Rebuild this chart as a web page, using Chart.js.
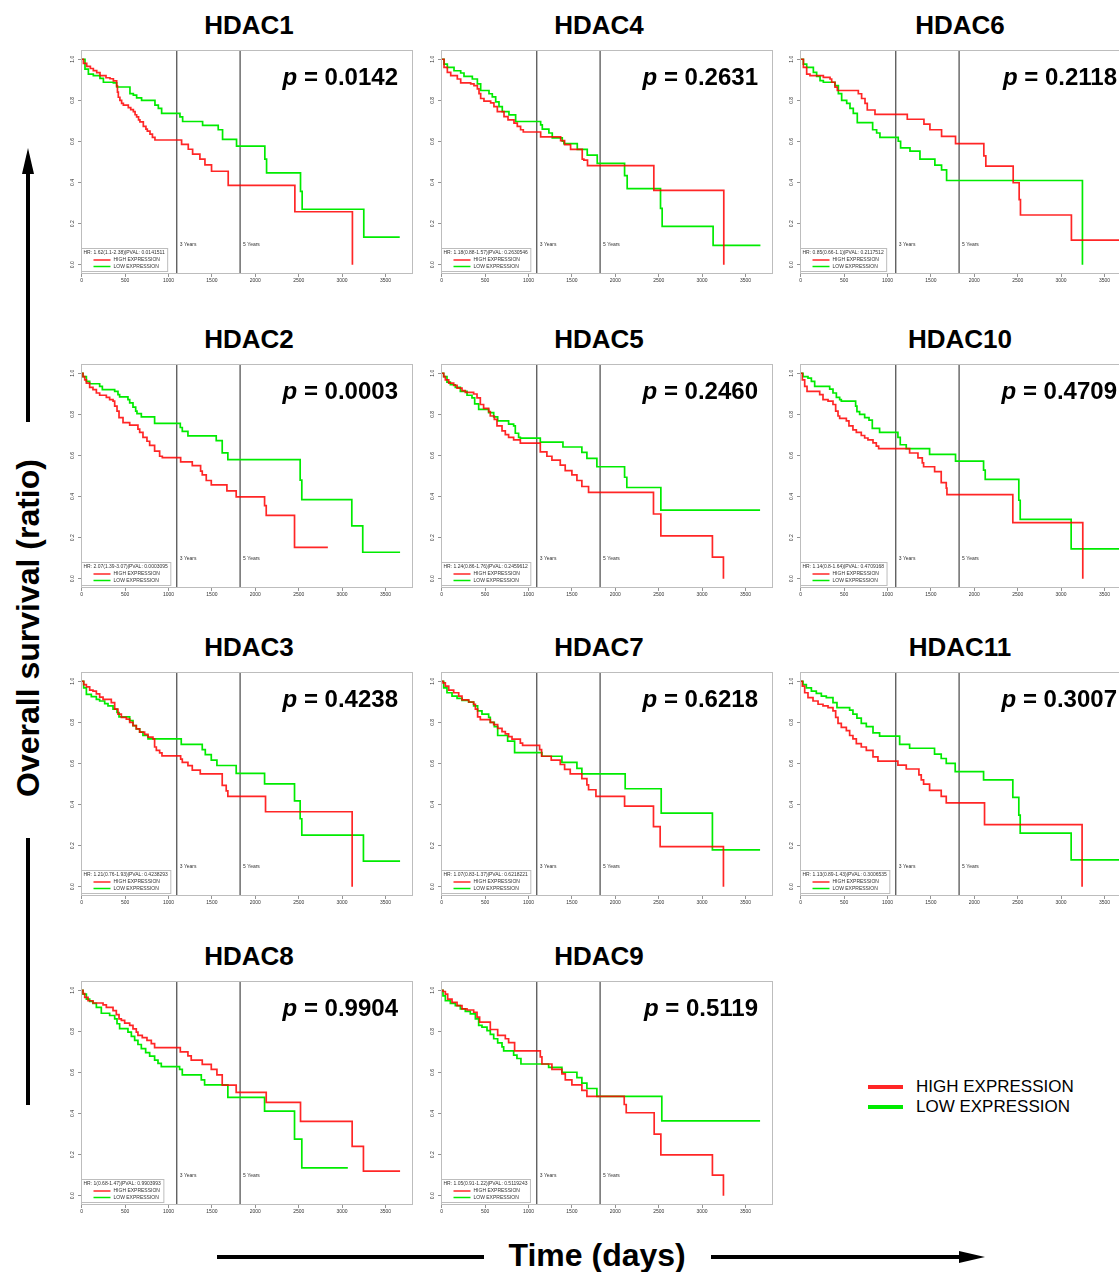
<!DOCTYPE html>
<html>
<head>
<meta charset="utf-8">
<script src="https://cdn.jsdelivr.net/npm/chart.js@4.4.1/dist/chart.umd.min.js"></script>
<style>
  html, body { margin: 0; padding: 0; background: #fff; overflow: hidden; }
  body { width: 1119px; height: 1272px; position: relative; font-family: "Liberation Sans", Arial, sans-serif; }
  canvas { position: absolute; }
  .title { position: absolute; width: 200px; text-align: center; font-weight: bold; font-size: 26px; line-height: 30px; color: #000; }
  .bar { position: absolute; background: #000; }
  .axis-label { position: absolute; font-weight: bold; font-size: 32px; line-height: 36px; white-space: nowrap; color: #000; }
  .key { position: absolute; font-size: 17px; line-height: 20px; color: #000; white-space: nowrap; }
</style>
</head>
<body>
<script>
// ---- data (day, survival) ----
const hdac1High = [[0,1],[20,0.98],[58,0.965],[100,0.955],[134,0.945],[173,0.935],[211,0.92],[280,0.91],[326,0.905],[365,0.895],[403,0.87],[412,0.84],[422,0.815],[440,0.8],[460,0.785],[480,0.777],[537,0.765],[565,0.755],[595,0.745],[615,0.73],[633,0.72],[655,0.705],[671,0.695],[710,0.673],[740,0.66],[756,0.65],[787,0.636],[815,0.62],[844,0.607],[1151,0.586],[1228,0.562],[1278,0.538],[1362,0.514],[1420,0.486],[1496,0.455],[1688,0.386],[2456,0.258],[3119,0]];
const hdac1Low = [[0,1],[38,0.952],[77,0.928],[134,0.92],[211,0.907],[250,0.888],[365,0.885],[403,0.865],[556,0.833],[595,0.825],[633,0.812],[690,0.8],[844,0.777],[883,0.761],[921,0.737],[1132,0.72],[1163,0.697],[1393,0.678],[1573,0.657],[1623,0.61],[1784,0.577],[2110,0.514],[2130,0.447],[2521,0.357],[2540,0.27],[3250,0.134],[3664,0.134]];

const hdac4High = [[0,1],[27,0.96],[65,0.936],[104,0.92],[180,0.904],[219,0.885],[334,0.88],[372,0.872],[411,0.856],[430,0.833],[449,0.809],[487,0.796],[564,0.788],[602,0.769],[641,0.745],[718,0.721],[764,0.705],[833,0.689],[871,0.673],[909,0.657],[940,0.646],[1140,0.622],[1370,0.604],[1416,0.585],[1485,0.561],[1619,0.514],[1638,0.509],[1680,0.482],[2444,0.362],[3250,0]];
const hdac4Low = [[0,1],[27,0.976],[65,0.96],[142,0.944],[219,0.933],[257,0.917],[353,0.904],[411,0.88],[449,0.848],[545,0.832],[583,0.817],[622,0.793],[660,0.769],[698,0.745],[775,0.729],[852,0.697],[1140,0.681],[1159,0.66],[1235,0.641],[1274,0.617],[1389,0.601],[1408,0.589],[1562,0.561],[1677,0.533],[1792,0.493],[2107,0.434],[2137,0.37],[2521,0.274],[2540,0.187],[3127,0.094],[3672,0.094]];

const hdac6High = [[0,1],[31,0.96],[69,0.928],[107,0.92],[261,0.912],[338,0.904],[357,0.888],[395,0.864],[422,0.848],[664,0.832],[702,0.809],[741,0.785],[767,0.753],[856,0.732],[1228,0.708],[1420,0.684],[1489,0.657],[1623,0.625],[1784,0.589],[2110,0.53],[2133,0.48],[2448,0.399],[2517,0.317],[2532,0.242],[3119,0.12],[3672,0.12]];
const hdac6Low = [[0,1],[31,0.976],[69,0.96],[146,0.936],[184,0.917],[223,0.896],[261,0.888],[395,0.872],[434,0.833],[472,0.8],[530,0.785],[568,0.761],[606,0.737],[652,0.692],[829,0.657],[875,0.641],[913,0.62],[1124,0.601],[1151,0.569],[1259,0.553],[1374,0.514],[1546,0.485],[1623,0.462],[1681,0.41],[3246,0]];

const hdac2High = [[0,1],[15,0.984],[35,0.968],[54,0.952],[92,0.931],[130,0.92],[169,0.904],[207,0.893],[284,0.883],[322,0.872],[361,0.864],[380,0.84],[407,0.816],[430,0.784],[476,0.76],[553,0.748],[648,0.728],[668,0.712],[706,0.688],[752,0.669],[783,0.649],[840,0.621],[898,0.596],[929,0.589],[1140,0.569],[1274,0.55],[1370,0.524],[1389,0.505],[1435,0.478],[1493,0.457],[1673,0.428],[1780,0.398],[2107,0.356],[2126,0.308],[2452,0.153],[2836,0.153]];
const hdac2Low = [[0,1],[15,0.984],[54,0.96],[92,0.949],[207,0.936],[238,0.92],[380,0.912],[418,0.896],[437,0.885],[533,0.872],[553,0.856],[591,0.835],[622,0.816],[637,0.804],[687,0.788],[840,0.756],[1136,0.736],[1159,0.717],[1224,0.695],[1550,0.672],[1619,0.613],[1684,0.58],[2517,0.48],[2536,0.385],[3112,0.257],[3238,0.129],[3668,0.129]];

const hdac5High = [[0,1],[23,0.984],[42,0.968],[81,0.952],[138,0.941],[177,0.928],[234,0.915],[272,0.907],[368,0.899],[407,0.88],[445,0.848],[483,0.829],[541,0.813],[560,0.792],[606,0.776],[637,0.744],[695,0.72],[733,0.701],[771,0.688],[829,0.676],[906,0.66],[1136,0.617],[1212,0.596],[1270,0.577],[1366,0.553],[1423,0.526],[1500,0.505],[1558,0.478],[1615,0.449],[1692,0.42],[2440,0.315],[2525,0.209],[3119,0.105],[3246,0]];
const hdac5Low = [[0,1],[23,0.984],[61,0.957],[100,0.944],[157,0.931],[215,0.912],[292,0.893],[349,0.88],[380,0.851],[426,0.824],[541,0.808],[599,0.788],[645,0.768],[771,0.752],[829,0.744],[848,0.708],[886,0.688],[906,0.684],[1136,0.665],[1397,0.641],[1615,0.615],[1673,0.586],[1788,0.545],[2107,0.494],[2133,0.444],[2525,0.334],[3668,0.334]];

const hdac10High = [[0,1],[19,0.968],[46,0.936],[73,0.912],[219,0.896],[257,0.872],[315,0.864],[372,0.848],[403,0.816],[430,0.792],[449,0.78],[526,0.768],[556,0.744],[602,0.724],[641,0.712],[698,0.697],[737,0.685],[775,0.676],[833,0.661],[871,0.645],[898,0.633],[1255,0.612],[1351,0.588],[1401,0.564],[1416,0.545],[1543,0.521],[1619,0.468],[1677,0.441],[1685,0.409],[2444,0.273],[3250,0]];
const hdac10Low = [[0,1],[27,0.984],[84,0.976],[123,0.96],[161,0.936],[334,0.923],[372,0.904],[411,0.883],[449,0.872],[468,0.864],[633,0.84],[648,0.813],[679,0.8],[737,0.784],[787,0.772],[825,0.732],[909,0.712],[1120,0.688],[1147,0.652],[1216,0.633],[1485,0.605],[1784,0.572],[2107,0.529],[2126,0.484],[2513,0.382],[2529,0.289],[3116,0.145],[3668,0.145]];

const hdac3High = [[0,1],[23,0.984],[54,0.973],[92,0.957],[130,0.952],[169,0.939],[207,0.923],[246,0.912],[341,0.896],[380,0.864],[418,0.84],[457,0.824],[514,0.816],[553,0.8],[591,0.784],[629,0.768],[668,0.752],[725,0.741],[764,0.728],[821,0.72],[840,0.68],[860,0.664],[898,0.651],[925,0.637],[1140,0.621],[1159,0.605],[1224,0.589],[1274,0.568],[1366,0.549],[1619,0.493],[1665,0.467],[1684,0.44],[2118,0.365],[3116,0]];
const hdac3Low = [[0,1],[23,0.968],[54,0.936],[111,0.925],[169,0.912],[207,0.904],[265,0.891],[303,0.88],[361,0.864],[407,0.848],[430,0.827],[553,0.808],[591,0.784],[629,0.768],[668,0.752],[706,0.736],[764,0.72],[1147,0.693],[1389,0.667],[1424,0.643],[1493,0.616],[1558,0.59],[1780,0.552],[2107,0.501],[2452,0.418],[2517,0.331],[2536,0.251],[3246,0.125],[3668,0.125]];

const hdac7High = [[0,1],[15,0.992],[42,0.976],[81,0.957],[138,0.944],[196,0.928],[234,0.909],[311,0.899],[368,0.888],[388,0.864],[414,0.827],[445,0.813],[560,0.8],[599,0.789],[645,0.771],[695,0.755],[733,0.744],[771,0.731],[810,0.718],[906,0.699],[932,0.688],[1128,0.667],[1151,0.635],[1262,0.616],[1366,0.595],[1416,0.571],[1481,0.549],[1615,0.526],[1673,0.496],[1692,0.472],[1777,0.44],[2107,0.392],[2440,0.293],[2517,0.195],[3246,0]];
const hdac7Low = [[0,1],[23,0.968],[61,0.944],[119,0.928],[177,0.917],[234,0.907],[311,0.898],[368,0.88],[414,0.856],[464,0.84],[541,0.824],[560,0.8],[606,0.779],[645,0.736],[760,0.709],[840,0.653],[1155,0.635],[1385,0.605],[1558,0.576],[1615,0.549],[2114,0.477],[2529,0.358],[3119,0.179],[3668,0.179]];

const hdac11High = [[0,1],[19,0.976],[46,0.944],[84,0.92],[142,0.904],[200,0.888],[257,0.88],[315,0.872],[372,0.856],[403,0.824],[430,0.795],[468,0.776],[526,0.76],[564,0.736],[602,0.72],[641,0.696],[698,0.68],[756,0.664],[833,0.632],[890,0.611],[1120,0.592],[1216,0.573],[1362,0.544],[1389,0.52],[1416,0.499],[1485,0.469],[1619,0.44],[1677,0.408],[2118,0.302],[3242,0]];
const hdac11Low = [[0,1],[27,0.984],[65,0.968],[123,0.952],[180,0.941],[238,0.928],[295,0.92],[372,0.896],[418,0.872],[564,0.859],[602,0.84],[648,0.821],[698,0.795],[756,0.779],[833,0.749],[909,0.733],[1140,0.693],[1255,0.674],[1542,0.645],[1619,0.624],[1677,0.6],[1780,0.56],[2107,0.52],[2444,0.435],[2513,0.349],[2529,0.261],[3116,0.131],[3668,0.131]];

const hdac8High = [[0,1],[15,0.984],[35,0.965],[73,0.949],[130,0.938],[246,0.929],[284,0.917],[361,0.901],[399,0.881],[430,0.861],[457,0.853],[495,0.84],[553,0.829],[591,0.812],[629,0.796],[648,0.78],[698,0.769],[752,0.756],[802,0.74],[840,0.721],[1136,0.7],[1224,0.681],[1262,0.66],[1389,0.639],[1493,0.615],[1558,0.588],[1619,0.538],[1780,0.503],[2126,0.454],[2521,0.362],[3116,0.24],[3246,0.12],[3668,0.12]];
const hdac8Low = [[0,1],[15,0.981],[54,0.957],[92,0.946],[130,0.936],[169,0.917],[226,0.888],[322,0.877],[380,0.861],[407,0.837],[437,0.813],[533,0.796],[572,0.776],[610,0.756],[648,0.736],[687,0.716],[737,0.696],[783,0.679],[840,0.66],[879,0.644],[917,0.628],[1128,0.615],[1159,0.588],[1378,0.564],[1416,0.54],[1684,0.479],[2107,0.412],[2452,0.276],[2536,0.136],[3066,0.136]];

const hdac9High = [[0,1],[15,0.994],[42,0.981],[69,0.957],[119,0.941],[177,0.925],[234,0.909],[292,0.904],[368,0.893],[407,0.869],[437,0.845],[560,0.809],[645,0.78],[733,0.764],[771,0.745],[840,0.705],[1136,0.676],[1155,0.641],[1270,0.615],[1385,0.593],[1424,0.564],[1500,0.54],[1615,0.513],[1673,0.484],[2103,0.444],[2126,0.404],[2448,0.3],[2525,0.199],[3119,0.1],[3246,0]];
const hdac9Low = [[0,1],[15,0.973],[42,0.949],[100,0.936],[157,0.925],[215,0.909],[272,0.897],[330,0.885],[388,0.861],[426,0.829],[464,0.821],[522,0.804],[560,0.785],[599,0.764],[645,0.744],[695,0.724],[714,0.705],[829,0.684],[867,0.668],[913,0.641],[1232,0.625],[1385,0.601],[1558,0.575],[1615,0.548],[1673,0.522],[1788,0.484],[2536,0.364],[3668,0.364]];

// panel order as laid out, row by row
const panelNames = ['HDAC1', 'HDAC4', 'HDAC6', 'HDAC2', 'HDAC5', 'HDAC10', 'HDAC3', 'HDAC7', 'HDAC11', 'HDAC8', 'HDAC9'];
const highSeries = [hdac1High, hdac4High, hdac6High, hdac2High, hdac5High, hdac10High, hdac3High, hdac7High, hdac11High, hdac8High, hdac9High];
const lowSeries = [hdac1Low, hdac4Low, hdac6Low, hdac2Low, hdac5Low, hdac10Low, hdac3Low, hdac7Low, hdac11Low, hdac8Low, hdac9Low];
const pValues = ['0.0142', '0.2631', '0.2118', '0.0003', '0.2460', '0.4709', '0.4238', '0.6218', '0.3007', '0.9904', '0.5119'];
const hrLabels = [
    'HR: 1.62(1.1-2.38)|PVAL: 0.0141511',
    'HR: 1.18(0.88-1.57)|PVAL: 0.2630546',
    'HR: 0.85(0.66-1.1)|PVAL: 0.2117512',
    'HR: 2.07(1.39-3.07)|PVAL: 0.0003095',
    'HR: 1.24(0.86-1.76)|PVAL: 0.2459612',
    'HR: 1.14(0.8-1.64)|PVAL: 0.4709168',
    'HR: 1.21(0.76-1.93)|PVAL: 0.4238293',
    'HR: 1.07(0.83-1.37)|PVAL: 0.6218221',
    'HR: 1.13(0.89-1.43)|PVAL: 0.3006535',
    'HR: 1(0.68-1.47)|PVAL: 0.9903993',
    'HR: 1.05(0.91-1.22)|PVAL: 0.5119243'
];
const xTicks = [0, 500, 1000, 1500, 2000, 2500, 3000, 3500];
const yTicks = [0, 0.2, 0.4, 0.6, 0.8, 1.0];
const yearMarks = [1095, 1825];
const yearLabels = ['3 Years', '5 Years'];
const seriesLabels = ['HIGH EXPRESSION', 'LOW EXPRESSION'];

// ---- layout ----
const RED = 'rgba(255,0,0,0.85)';
const GREEN = 'rgb(0,235,0)';
const FONT = '"Liberation Sans", Arial, sans-serif';
const colLeft = [81, 441, 800];
const rowTop = [47, 361, 669, 978];
const titleCx = [249, 599, 960];
const BOX_W = 332, BOX_H = 227;
const X_MIN = -8, X_MAX = 3817, Y_MIN = -0.045, Y_MAX = 1.045;

Chart.defaults.font.family = FONT;

// frame, year labels, inset legend and p value
const kmDecor = {
    id: 'kmDecor',
    afterDraw(chart, args, opts) {
        const {ctx, chartArea: a, scales: {x, y}} = chart;
        ctx.save();
        ctx.strokeStyle = '#bdbdbd';
        ctx.lineWidth = 1;
        ctx.strokeRect(a.left + 0.5, a.top + 0.5, a.right - a.left - 1, a.bottom - a.top - 1);

        ctx.fillStyle = '#333';
        ctx.font = '5px ' + FONT;
        ctx.textBaseline = 'middle';
        ctx.textAlign = 'left';
        yearMarks.forEach((d, i) => ctx.fillText(yearLabels[i], x.getPixelForValue(d) + 3, y.getPixelForValue(0.1)));

        // inset legend
        const w = ctx.measureText(opts.hr).width + 5;
        const lx = a.left + 0.5, ly = a.bottom - 25.5;
        ctx.fillStyle = '#fff';
        ctx.fillRect(lx, ly, w, 23);
        ctx.strokeStyle = '#bdbdbd';
        ctx.strokeRect(lx, ly, w, 23);
        ctx.fillStyle = '#333';
        ctx.fillText(opts.hr, lx + 2, ly + 4.5);
        [RED, GREEN].forEach((c, i) => {
            const yy = ly + 11.5 + i * 6.5;
            ctx.strokeStyle = c;
            ctx.lineWidth = 1.5;
            ctx.beginPath();
            ctx.moveTo(lx + 12, yy);
            ctx.lineTo(lx + 29, yy);
            ctx.stroke();
            ctx.fillText(seriesLabels[i], lx + 32, yy);
        });

        // p value, right aligned
        ctx.fillStyle = '#000';
        ctx.textBaseline = 'alphabetic';
        ctx.font = 'bold 24px ' + FONT;
        const rest = ' = ' + opts.p;
        const rw = ctx.measureText(rest).width;
        const px = a.right - 15 - rw;
        ctx.fillText(rest, px, a.top + 35);
        ctx.font = 'italic bold 24px ' + FONT;
        ctx.textAlign = 'right';
        ctx.fillText('p', px, a.top + 35);
        ctx.restore();
    }
};

function steps(points) {
    return points.map(([d, s]) => ({x: d, y: s}));
}

panelNames.forEach((name, i) => {
    const row = Math.floor(i / 3), col = i % 3;
    const boxLeft = colLeft[col], boxTop = rowTop[row];

    const title = document.createElement('div');
    title.className = 'title';
    title.textContent = name;
    title.style.left = (titleCx[col] - 100) + 'px';
    title.style.top = (boxTop - 37) + 'px';
    document.body.appendChild(title);

    const canvas = document.createElement('canvas');
    canvas.width = 30 + BOX_W + 4;
    canvas.height = 2 + BOX_H + 18;
    canvas.style.left = (boxLeft - 30) + 'px';
    canvas.style.top = (boxTop - 2) + 'px';
    document.body.appendChild(canvas);

    const yearSets = yearMarks.map(d => ({
        data: [{x: d, y: Y_MIN}, {x: d, y: Y_MAX}],
        borderColor: '#555',
        borderWidth: 1.3,
        pointRadius: 0
    }));

    new Chart(canvas, {
        type: 'line',
        data: {
            datasets: [
                {data: steps(highSeries[i]), borderColor: RED, borderWidth: 1.7, stepped: 'before', pointRadius: 0},
                {data: steps(lowSeries[i]), borderColor: GREEN, borderWidth: 1.7, stepped: 'before', pointRadius: 0},
                ...yearSets
            ]
        },
        options: {
            responsive: false,
            animation: false,
            devicePixelRatio: 1,
            layout: {padding: {left: 0, top: 2, right: 4, bottom: 0}},
            plugins: {
                legend: {display: false},
                tooltip: {enabled: false},
                kmDecor: {hr: hrLabels[i], p: pValues[i]}
            },
            scales: {
                x: {
                    type: 'linear',
                    min: X_MIN,
                    max: X_MAX,
                    afterBuildTicks: s => { s.ticks = xTicks.map(v => ({value: v})); },
                    afterFit: s => { s.height = 18; },
                    border: {display: false},
                    grid: {drawOnChartArea: false, tickLength: 3, color: '#777', lineWidth: 0.8},
                    ticks: {font: {size: 5}, color: '#333', padding: 1, maxRotation: 0, autoSkip: false, callback: v => String(v)}
                },
                y: {
                    min: Y_MIN,
                    max: Y_MAX,
                    afterBuildTicks: s => { s.ticks = yTicks.map(v => ({value: v})); },
                    afterFit: s => { s.width = 30; },
                    border: {display: false},
                    grid: {drawOnChartArea: false, tickLength: 3, color: '#777', lineWidth: 0.8},
                    ticks: {
                        font: {size: 5}, color: '#333', padding: 2,
                        minRotation: 90, maxRotation: 90, crossAlign: 'center', autoSkip: false,
                        callback: v => v.toFixed(1)
                    }
                }
            }
        },
        plugins: [kmDecor]
    });
});

// ---- shared axis labels, arrows and key ----
function bar(l, t, w, h) {
    const d = document.createElement('div');
    d.className = 'bar';
    Object.assign(d.style, {left: l + 'px', top: t + 'px', width: w + 'px', height: h + 'px'});
    document.body.appendChild(d);
    return d;
}
bar(26, 172, 4, 250);
const upHead = bar(22, 148, 0, 0);
Object.assign(upHead.style, {background: 'none', borderLeft: '6px solid transparent', borderRight: '6px solid transparent', borderBottom: '26px solid #000'});
bar(26, 838, 4, 267);
bar(217, 1255, 267, 4);
bar(711, 1255, 250, 4);
const rightHead = bar(959, 1251, 0, 0);
Object.assign(rightHead.style, {background: 'none', borderTop: '6px solid transparent', borderBottom: '6px solid transparent', borderLeft: '26px solid #000'});

const yLabel = document.createElement('div');
yLabel.className = 'axis-label';
yLabel.textContent = 'Overall survival (ratio)';
document.body.appendChild(yLabel);
const yw = yLabel.offsetWidth;
Object.assign(yLabel.style, {left: (28 - yw / 2) + 'px', top: (628 - 18) + 'px', transform: 'rotate(-90deg)'});

const xLabel = document.createElement('div');
xLabel.className = 'axis-label';
xLabel.textContent = 'Time (days)';
document.body.appendChild(xLabel);
xLabel.style.left = (597 - xLabel.offsetWidth / 2) + 'px';
xLabel.style.top = (1255 - 18) + 'px';

[RED, GREEN].forEach((c, i) => {
    const y = 1087 + i * 20;
    const line = bar(868, y - 2, 35, 4);
    line.style.background = c;
    const k = document.createElement('div');
    k.className = 'key';
    k.textContent = seriesLabels[i];
    k.style.left = '916px';
    k.style.top = (y - 10) + 'px';
    document.body.appendChild(k);
});
</script>
</body>
</html>
